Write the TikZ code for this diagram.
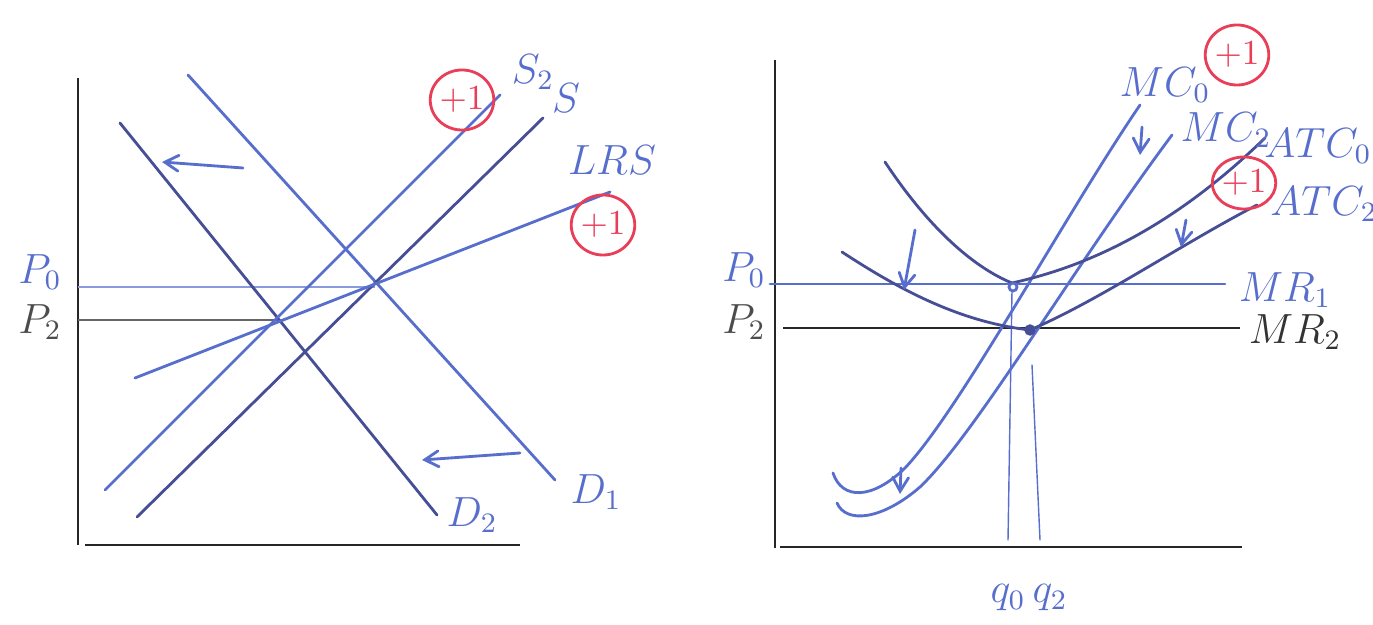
\documentclass[tikz,border=0pt]{standalone}
\usepackage{tikz}
\usetikzlibrary{arrows,shapes.geometric}

\definecolor{pen}{RGB}{88,110,205}
\definecolor{darkpen}{RGB}{70,78,150}
\definecolor{grader}{RGB}{232,62,88}

\tikzset{
  curve/.style={pen, thick, line cap=round},
  darkcurve/.style={darkpen, thick, line cap=round},
  axis/.style={black!85, thick},
  lbl/.style={font=\large},
  plusone/.style={ellipse, draw=grader, text=grader, thick, minimum width=0.56cm, minimum height=0.6cm, inner sep=0pt, font=\normalsize},
}

\begin{document}
\begin{tikzpicture}[x=0.01cm, y=-0.01cm]
\useasboundingbox (0,0) rectangle (1373,625);

\begin{scope}
  \draw[axis] (78,78) -- (78,545);
  \draw[axis] (85,545) -- (520,545);
  \draw[pen!70, thin] (78,287) -- (375,287);
  \draw[black!60, thin] (78,320) -- (278,320);
  \node[lbl, pen] at (40,272) {$P_0$};
  \node[lbl, black!70] at (40,322) {$P_2$};
  \draw[curve] (188,75) -- (555,480);
  \draw[darkcurve] (120,123) -- (437,515);
  \draw[curve] (105,490) -- (500,95);
  \draw[darkcurve] (137,517) -- (543,118);
  \draw[curve] (135,378) -- (610,192);
  \node[lbl, pen] at (596,492) {$D_1$};
  \node[lbl, pen] at (472,515) {$D_2$};
  \node[lbl, pen] at (533,72) {$S_2$};
  \node[lbl, pen] at (566,98) {$S$};
  \node[lbl, pen] at (612,160) {$LRS$};
  \draw[curve, -angle 60] (243,168) -- (162,162);
  \draw[curve, -angle 60] (520,453) -- (422,460);
  \node[plusone] at (462,100) {$+1$};
  \node[plusone] at (603,225) {$+1$};
\end{scope}

\begin{scope}
  \draw[axis] (775,60) -- (775,548);
  \draw[axis] (780,547) -- (1242,547);
  \draw[curve] (770,284) -- (1225,284);
  \draw[black!85, thick] (783,328) -- (1240,328);
  \node[lbl, pen] at (1285,290) {$MR_1$};
  \node[lbl, black!80] at (1295,332) {$MR_2$};
  \node[lbl, pen] at (744,270) {$P_0$};
  \node[lbl, black!70] at (744,322) {$P_2$};
  \draw[curve, thin] (1012,290) -- (1008,540);
  \draw[curve, thin] (1032,365) -- (1040,540);
  \draw[curve] (833,473) .. controls (842,500) and (872,500) .. (905,468)
    .. controls (960,410) and (1065,215) .. (1140,105);
  \draw[curve] (837,503) .. controls (846,524) and (882,520) .. (920,487)
    .. controls (975,435) and (1075,265) .. (1172,135);
  \draw[darkcurve] (885,162) .. controls (930,230) and (975,268) .. (1012,283)
    .. controls (1070,270) and (1160,240) .. (1265,138);
  \draw[darkcurve] (842,252) .. controls (900,290) and (960,322) .. (1030,330)
    .. controls (1100,300) and (1180,245) .. (1257,205);
  \filldraw[white, draw=pen, thick] (1013,287) circle (4);
  \filldraw[darkpen] (1030,330) circle (5);
  \draw[curve, -angle 60] (915,230) -- (904,290);
  \draw[curve, -angle 60] (1186,220) -- (1181,247);
  \draw[curve, -angle 60] (1142,127) -- (1140,155);
  \draw[curve, -angle 60] (901,468) -- (900,494);
  \node[lbl, pen] at (1165,85) {$MC_0$};
  \node[lbl, pen] at (1226,130) {$MC_2$};
  \node[lbl, pen] at (1318,146) {$ATC_0$};
  \node[lbl, pen] at (1324,204) {$ATC_2$};
  \node[lbl, pen] at (1008,598) {$q_0$};
  \node[lbl, pen] at (1050,598) {$q_2$};
  \node[plusone, minimum width=0.6cm, minimum height=0.6cm] at (1237,55) {$+1$};
  \node[plusone, minimum width=0.5cm, minimum height=0.52cm] at (1244,183) {$+1$};
\end{scope}

\end{tikzpicture}
\end{document}
